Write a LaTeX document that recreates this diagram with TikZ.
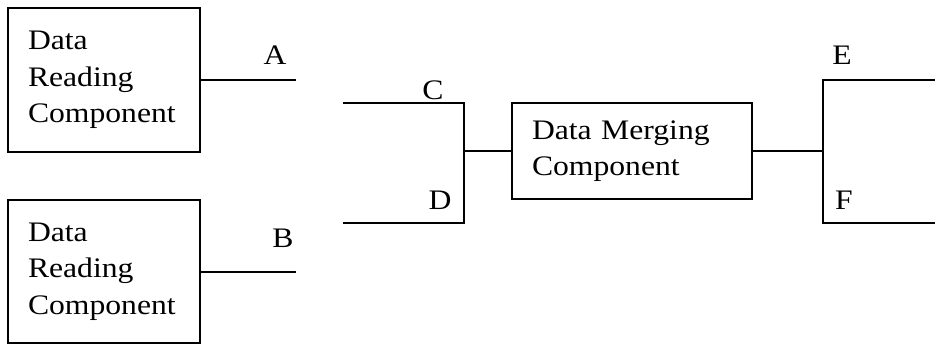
\documentclass[tikz,border=0pt]{standalone}
\usepackage{fontspec}
\setmainfont[FakeStretch=1.12]{Liberation Serif}
\usetikzlibrary{positioning}
\tikzset{
block/.style = {draw, fill=white, rectangle, line width=1.5pt, align=left, inner xsep=15pt, inner ysep=0pt},
tmp/.style   = {coordinate},
tag/.style   = {inner sep=0pt},
wire/.style  = {line width=1.5pt}
}
\begin{document}
\begin{tikzpicture}[x=0.75pt, y=-0.75pt, font=\fontsize{21.2pt}{27.4pt}\selectfont]
  \useasboundingbox (0,0) rectangle (935,345);
  \node [block, text width=114pt, minimum height=108pt] (reada) at (104,80)    {Data\\Reading\\Component};
  \node [block, text width=114pt, minimum height=107pt] (readb) at (104,271.5) {Data\\Reading\\Component};
  \node [block, text width=150pt, minimum height=72pt]  (merge) at (632,151)   {Data Merging\\Component};

  \node [tmp] (aend)  at (296,80)  {};
  \node [tmp] (bend)  at (296,272) {};
  \node [tmp] (cin)   at (343,103) {};
  \node [tmp] (ckink) at (464,103) {};
  \node [tmp] (dkink) at (464,223) {};
  \node [tmp] (din)   at (343,223) {};
  \node [tmp] (join)  at (464,151) {};
  \node [tmp] (split) at (823,151) {};
  \node [tmp] (ekink) at (823,80)  {};
  \node [tmp] (eout)  at (935,80)  {};
  \node [tmp] (fkink) at (823,223) {};
  \node [tmp] (fout)  at (935,223) {};

  \node [tag] (la) at (275,55)  {A};
  \node [tag] (lb) at (283,238) {B};
  \node [tag] (lc) at (433,90)  {C};
  \node [tag] (ld) at (440,200) {D};
  \node [tag] (le) at (842,55)  {E};
  \node [tag] (lf) at (844,200) {F};

  \draw [wire] (reada) -- (aend);
  \draw [wire] (readb.east |- bend) -- (bend);
  \draw [wire] (cin) -- (ckink) -- (dkink) -- (din);
  \draw [wire] (join) -- (merge);
  \draw [wire] (merge) -- (split);
  \draw [wire] (eout) -- (ekink) -- (fkink) -- (fout);
\end{tikzpicture}
\end{document}
